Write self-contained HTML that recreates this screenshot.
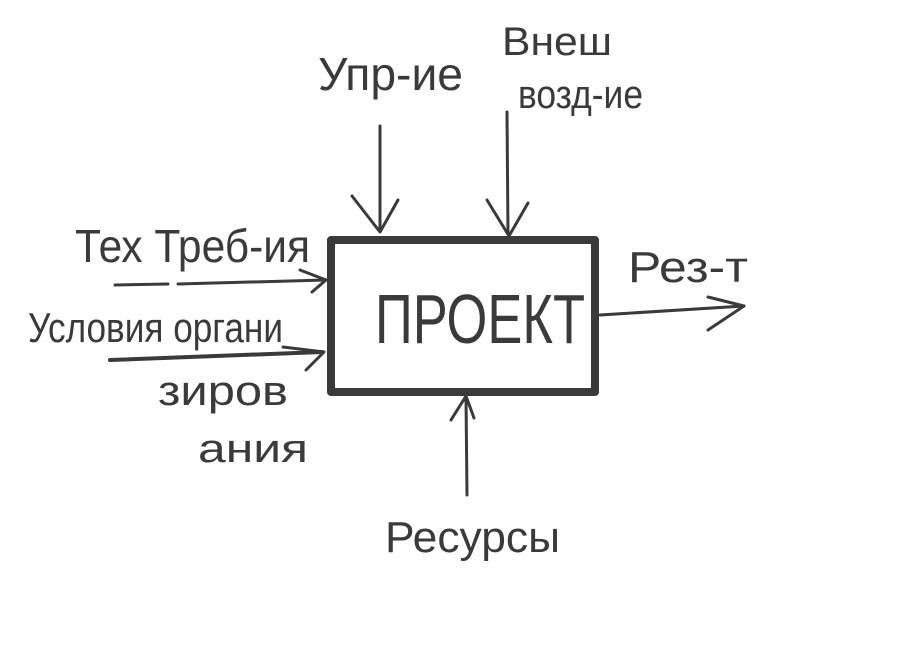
<!DOCTYPE html>
<html><head><meta charset="utf-8"><style>
html,body{margin:0;padding:0;background:#fff;}
svg{display:block;}
text{font-family:"Liberation Sans Narrow","Liberation Sans","DejaVu Sans",sans-serif;fill:#3a3a3a;font-weight:normal;}
</style></head><body>
<svg width="922" height="651" viewBox="0 0 922 651" xmlns="http://www.w3.org/2000/svg">
<g fill="none" stroke="#3a3a3a" stroke-width="3" stroke-linecap="round" stroke-linejoin="round">
<rect x="331" y="240" width="264" height="152" stroke-width="8"/>
<!-- top arrows -->
<path d="M380 126 L380 230"/><path d="M352 196 L380 232 L398 200"/>
<path d="M507 112 L508 234"/><path d="M487 200 L509 236 L528 203"/>
<!-- left arrows -->
<path d="M115 285 L168 284"/><path d="M178 284 L326 280"/><path d="M300 270 L326 280 L312 292"/>
<path d="M110 360 L322 352" stroke-width="4"/><path d="M283 347 L324 352 L306 370"/>
<!-- right -->
<path d="M600 315 L744 306"/><path d="M708 297 L744 306 L708 330"/>
<!-- bottom -->
<path d="M467 495 L466 397"/><path d="M451 420 L466 396 L474 418"/>
</g>
<text x="318" y="90" font-size="46" textLength="145" lengthAdjust="spacingAndGlyphs">Упр-ие</text>
<text x="502" y="55" font-size="40" textLength="110" lengthAdjust="spacingAndGlyphs">Внеш</text>
<text x="518" y="108" font-size="40" textLength="125" lengthAdjust="spacingAndGlyphs">возд-ие</text>
<text x="75" y="262" font-size="46" textLength="235" lengthAdjust="spacingAndGlyphs">Тех Треб-ия</text>
<text x="28" y="342" font-size="42" textLength="255" lengthAdjust="spacingAndGlyphs">Условия органи</text>
<text x="158" y="405" font-size="42" textLength="130" lengthAdjust="spacingAndGlyphs">зиров</text>
<text x="198" y="462" font-size="40" textLength="110" lengthAdjust="spacingAndGlyphs">ания</text>
<text x="375" y="343" font-size="70" textLength="210" lengthAdjust="spacingAndGlyphs">ПРОЕКТ</text>
<text x="628" y="282" font-size="44" textLength="120" lengthAdjust="spacingAndGlyphs">Рез-т</text>
<text x="385" y="552" font-size="44" textLength="175" lengthAdjust="spacingAndGlyphs">Ресурсы</text>
</svg>
</body></html>
